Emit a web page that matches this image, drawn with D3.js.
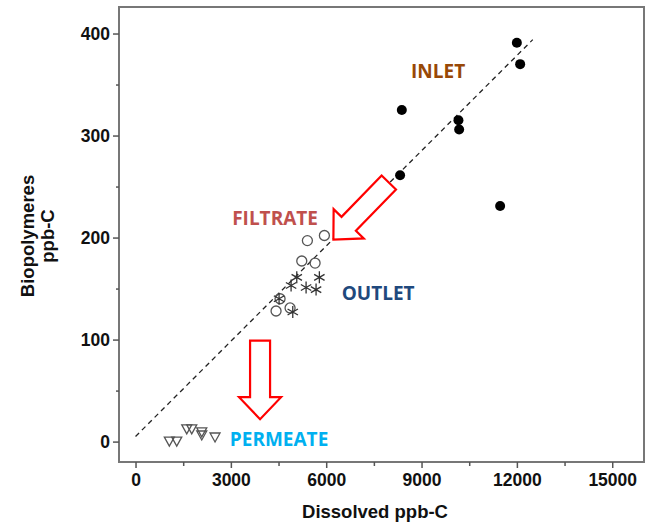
<!DOCTYPE html>
<html>
<head>
<meta charset="utf-8">
<script src="https://cdn.jsdelivr.net/npm/d3@7"></script>
<style>
    body { margin: 0; background: #fff; }
    .tick text { font-family: Arial, "Liberation Sans", sans-serif; font-weight: bold; font-size: 17.5px; fill: #111; }
    .axis-title { font-family: Arial, "Liberation Sans", sans-serif; font-weight: bold; font-size: 18.5px; fill: #111; }
    .label { font-family: "Open Sans", sans-serif; font-weight: bold; font-size: 19px; }
</style>
</head>
<body>
<svg width="650" height="529"></svg>
<script>
// values
const inletX = [11999, 12103, 8379, 10161, 10183, 8325, 11473];
const inletY = [391, 370, 325, 315, 306, 261, 231];

const filtrateX = [5408, 5943, 5231, 5650, 4548, 4863, 4422];
const filtrateY = [197, 202, 177, 175, 140, 131, 128];

const outletX = [5074, 5785, 4895, 5367, 5681, 4517, 4948];
const outletY = [161, 161, 153, 151, 149, 140, 127];

const permeateX = [1064, 1297, 1612, 1769, 2084, 2084, 2502];
const permeateY = [0, 0, 12, 12, 9, 6, 4];

const fitX = [0, 12500];
const fitY = [5, 394];

const xTicks = [0, 3000, 6000, 9000, 12000, 15000];
const xMinor = [1500, 4500, 7500, 10500, 13500];
const yTicks = [0, 100, 200, 300, 400];
const yMinor = [50, 150, 250, 350];

const labelNames = ["INLET", "FILTRATE", "OUTLET", "PERMEATE"];
const labelX = [9522, 4391, 7633, 4517];
const labelY = [363, 219, 146, 3];
const labelColors = ["#984807", "#C0504D", "#1F497D", "#00B0F0"];

// arrows: tail -> tip, in data units
const arrowFrom = [[7970, 254], [3919, 99]];
const arrowTo = [[6226, 198], [3919, 22]];

const svg = d3.select("svg");

const x = d3.scaleLinear().domain([-520, 16000]).range([119, 644]);
const y = d3.scaleLinear().domain([-20, 426]).range([462, 7]);

// frame
svg.append("rect")
    .attr("x", x(-520))
    .attr("y", y(426))
    .attr("width", x(16000) - x(-520))
    .attr("height", y(-20) - y(426))
    .attr("fill", "none")
    .attr("stroke", "#777")
    .attr("stroke-width", 2);

// axes
const xAxis = svg.append("g")
    .attr("transform", `translate(0,${y(-20)})`)
    .call(d3.axisBottom(x).tickValues(xTicks).tickSize(6).tickPadding(6).tickFormat(d3.format("d")));
xAxis.select(".domain").remove();
xAxis.selectAll(".tick line").attr("stroke", "#555").attr("stroke-width", 1.5);

svg.append("g")
    .attr("transform", `translate(0,${y(-20)})`)
    .call(d3.axisBottom(x).tickValues(xMinor).tickSize(4).tickFormat(""))
    .call(g => g.select(".domain").remove())
    .selectAll(".tick line").attr("stroke", "#555").attr("stroke-width", 1.5);

const yAxis = svg.append("g")
    .attr("transform", `translate(${x(-520)},0)`)
    .call(d3.axisLeft(y).tickValues(yTicks).tickSize(6).tickPadding(3));
yAxis.select(".domain").remove();
yAxis.selectAll(".tick line").attr("stroke", "#555").attr("stroke-width", 1.5);

svg.append("g")
    .attr("transform", `translate(${x(-520)},0)`)
    .call(d3.axisLeft(y).tickValues(yMinor).tickSize(3).tickFormat(""))
    .call(g => g.select(".domain").remove())
    .selectAll(".tick line").attr("stroke", "#555").attr("stroke-width", 1.5);

// axis titles
svg.append("text")
    .attr("class", "axis-title")
    .attr("x", 375)
    .attr("y", 518)
    .attr("text-anchor", "middle")
    .text("Dissolved ppb-C");

const yTitle = svg.append("text")
    .attr("class", "axis-title")
    .attr("transform", "translate(0,236) rotate(-90)")
    .attr("text-anchor", "middle");
yTitle.append("tspan").attr("x", 0).attr("y", 34).text("Biopolymeres");
yTitle.append("tspan").attr("x", 0).attr("y", 54).text("ppb-C");

// dashed fit line
svg.append("line")
    .attr("x1", x(fitX[0]))
    .attr("y1", y(fitY[0]))
    .attr("x2", x(fitX[1]))
    .attr("y2", y(fitY[1]))
    .attr("stroke", "#222")
    .attr("stroke-width", 1.3)
    .attr("stroke-dasharray", "5,4");

// arrows
function arrowPath(x1, y1, x2, y2, shaftW, headW, headL) {
    const len = Math.hypot(x2 - x1, y2 - y1);
    const ux = (x2 - x1) / len, uy = (y2 - y1) / len;
    const nx = -uy, ny = ux;
    const bx = x2 - ux * headL, by = y2 - uy * headL;
    const p = [
        [x1 + nx * shaftW / 2, y1 + ny * shaftW / 2],
        [bx + nx * shaftW / 2, by + ny * shaftW / 2],
        [bx + nx * headW / 2, by + ny * headW / 2],
        [x2, y2],
        [bx - nx * headW / 2, by - ny * headW / 2],
        [bx - nx * shaftW / 2, by - ny * shaftW / 2],
        [x1 - nx * shaftW / 2, y1 - ny * shaftW / 2]
    ];
    return "M" + p.map(d => d.join(",")).join("L") + "Z";
}

arrowFrom.forEach((from, i) => {
    const to = arrowTo[i];
    svg.append("path")
        .attr("d", arrowPath(x(from[0]), y(from[1]), x(to[0]), y(to[1]), 20, 42, 22))
        .attr("fill", "#fff")
        .attr("stroke", "#FF0000")
        .attr("stroke-width", 2.2)
        .attr("stroke-linejoin", "miter");
});

// points
const zip = (xs, ys) => xs.map((d, i) => [d, ys[i]]);

svg.append("g").selectAll("circle")
    .data(zip(inletX, inletY))
    .join("circle")
    .attr("cx", d => x(d[0]))
    .attr("cy", d => y(d[1]))
    .attr("r", 5)
    .attr("fill", "#000");

svg.append("g").selectAll("circle")
    .data(zip(filtrateX, filtrateY))
    .join("circle")
    .attr("cx", d => x(d[0]))
    .attr("cy", d => y(d[1]))
    .attr("r", 5)
    .attr("fill", "none")
    .attr("stroke", "#555")
    .attr("stroke-width", 1.3);

const star = "M0,-6L0,6M-5.2,-3L5.2,3M-5.2,3L5.2,-3";
svg.append("g").selectAll("path")
    .data(zip(outletX, outletY))
    .join("path")
    .attr("transform", d => `translate(${x(d[0])},${y(d[1])})`)
    .attr("d", star)
    .attr("stroke", "#333")
    .attr("stroke-width", 1.3);

const tri = "M-5,-4.5L5,-4.5L0,4.5Z";
svg.append("g").selectAll("path")
    .data(zip(permeateX, permeateY))
    .join("path")
    .attr("transform", d => `translate(${x(d[0])},${y(d[1])})`)
    .attr("d", tri)
    .attr("fill", "none")
    .attr("stroke", "#555")
    .attr("stroke-width", 1.3);

// group labels
labelNames.forEach((name, i) => {
    svg.append("text")
        .attr("class", "label")
        .attr("x", x(labelX[i]))
        .attr("y", y(labelY[i]))
        .attr("text-anchor", "middle")
        .attr("dominant-baseline", "central")
        .attr("fill", labelColors[i])
        .text(name);
});
</script>
</body>
</html>
